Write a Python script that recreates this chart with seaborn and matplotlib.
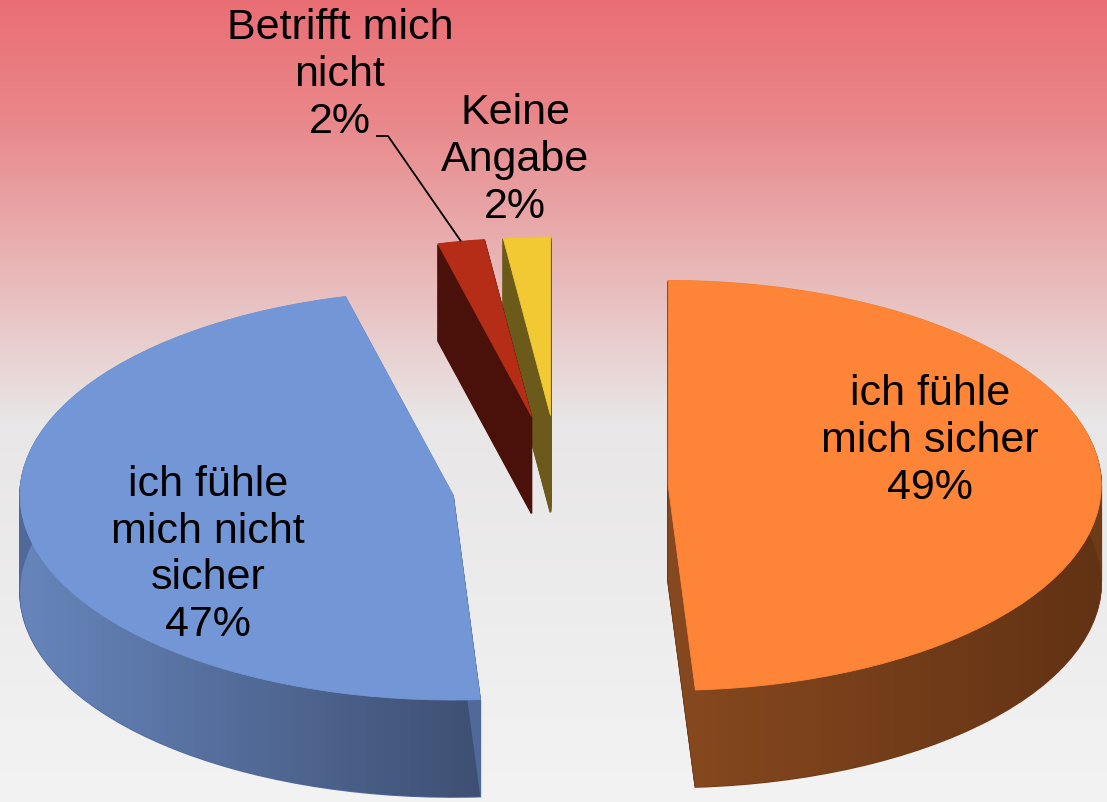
import numpy as np
import matplotlib
matplotlib.use("Agg")
import matplotlib.pyplot as plt
import seaborn as sns
from matplotlib.colors import LinearSegmentedColormap, to_rgb

# ---------------- data ----------------
categories = ["ich fühle\nmich sicher", "ich fühle\nmich nicht\nsicher",
              "Betrifft mich\nnicht", "Keine\nAngabe"]
values = [49, 47, 2, 2]
top_colors = ["#FE8537", "#7397D6", "#B52C17", "#F2C932"]
side_colors = ["#6E3B19", "#51689A", "#4A110A", "#6B5A1A"]
side_grad = [("#87491F", "#623214"), ("#6785BC", "#3C4E70"), None, None]
explode = [0.25, 0.25, 0.35, 0.35]
small_radius = [1.0, 1.0, 0.87, 0.87]

# ---------------- style ----------------
sns.set_theme(style="white")
plt.rcParams['font.family'] = ['Liberation Sans', 'DejaVu Sans']

W, H = 1107, 803
fig = plt.figure(figsize=(W / 100, H / 100), dpi=100)

# background gradient (top red-pink -> light grey)
bg = fig.add_axes([0, 0, 1, 1])
bg.axis("off")
rows = np.arange(H)
stops_y = [0, 120, 260, 420, 803]
stops_c = np.array([(233, 110, 116), (233, 135, 138), (232, 180, 180),
                    (232, 230, 230), (243, 243, 243)]) / 255.0
grad = np.stack([np.interp(rows, stops_y, stops_c[:, i]) for i in range(3)], axis=1)
bg.imshow(grad[:, None, :], aspect="auto", extent=(0, 1, 0, 1))
bg.set_xlim(0, 1)
bg.set_ylim(0, 1)

ax = fig.add_axes([0, 0, 1, 1])
ax.patch.set_alpha(0)

# pixel geometry of the tilted ellipse
RX, RY = 433.0, 205.0
CX, CY = 560.0, 488.0
depth = 97.0 / RY
xlim = (-CX / RX, (W - CX) / RX)
ylim = (-(H - CY) / RY, CY / RY)

pie_kw = dict(explode=explode, startangle=90, counterclock=False)

# side walls: stacked layers shifted downward
N = 100
bottom_wedges = None
for k in range(N, 0, -1):
    off = depth * k / N
    wedges, _ = ax.pie(values, colors=side_colors, center=(0, -off), **pie_kw)
    for wdg, r in zip(wedges, small_radius):
        wdg.set_radius(r)
        wdg.set_edgecolor(wdg.get_facecolor())
        wdg.set_linewidth(1.2)
        wdg.set_zorder(1)
    if k == N:
        bottom_wedges = wedges

# horizontal shading on the front walls of the big slices
for wdg, g in zip(bottom_wedges, side_grad):
    if g is None:
        continue
    cmap = LinearSegmentedColormap.from_list("s", [to_rgb(g[0]), to_rgb(g[1])])
    cxw, cyw = wdg.center
    if cxw > 0:
        x0, x1 = cxw, cxw + 1.0
    else:
        x0, x1 = cxw - 1.0, cxw + 0.1
    im = ax.imshow(np.linspace(0, 1, 256)[None, :], cmap=cmap, aspect="auto",
                   extent=(x0, x1, ylim[0], ylim[1]), zorder=1.5,
                   interpolation="bilinear")
    im.set_clip_path(wdg)

# top faces
tops, _ = ax.pie(values, colors=top_colors, center=(0, 0), **pie_kw)
for wdg, r in zip(tops, small_radius):
    wdg.set_radius(r)
    wdg.set_edgecolor(wdg.get_facecolor())
    wdg.set_linewidth(0.6)
    wdg.set_zorder(2)

ax.set_aspect("auto")
ax.set_xlim(*xlim)
ax.set_ylim(*ylim)
ax.axis("off")

# ---------------- labels ----------------
label_pos = [(930, 441), (208, 555), (340, 75), (515, 160)]
for cat, v, (px, py) in zip(categories, values, label_pos):
    fig.text(px / W, 1 - py / H, f"{cat}\n{v}%", ha="center", va="center",
             multialignment="center", fontsize=31, color="black",
             linespacing=1.22)

# leader line for the "Betrifft mich nicht" label
red = tops[2]
tm = np.deg2rad((red.theta1 + red.theta2) / 2)
end = (red.center[0] + red.r * np.cos(tm), red.center[1] + red.r * np.sin(tm))
def px2data(px, py):
    return ((px - CX) / RX, (CY - py) / RY)
p0 = px2data(376, 137)
p1 = px2data(388, 137)
ax.plot([p0[0], p1[0], end[0]], [p0[1], p1[1], end[1]], color="black",
        lw=1.3, zorder=3, solid_capstyle="butt")

fig.savefig("out.png", dpi=100)
